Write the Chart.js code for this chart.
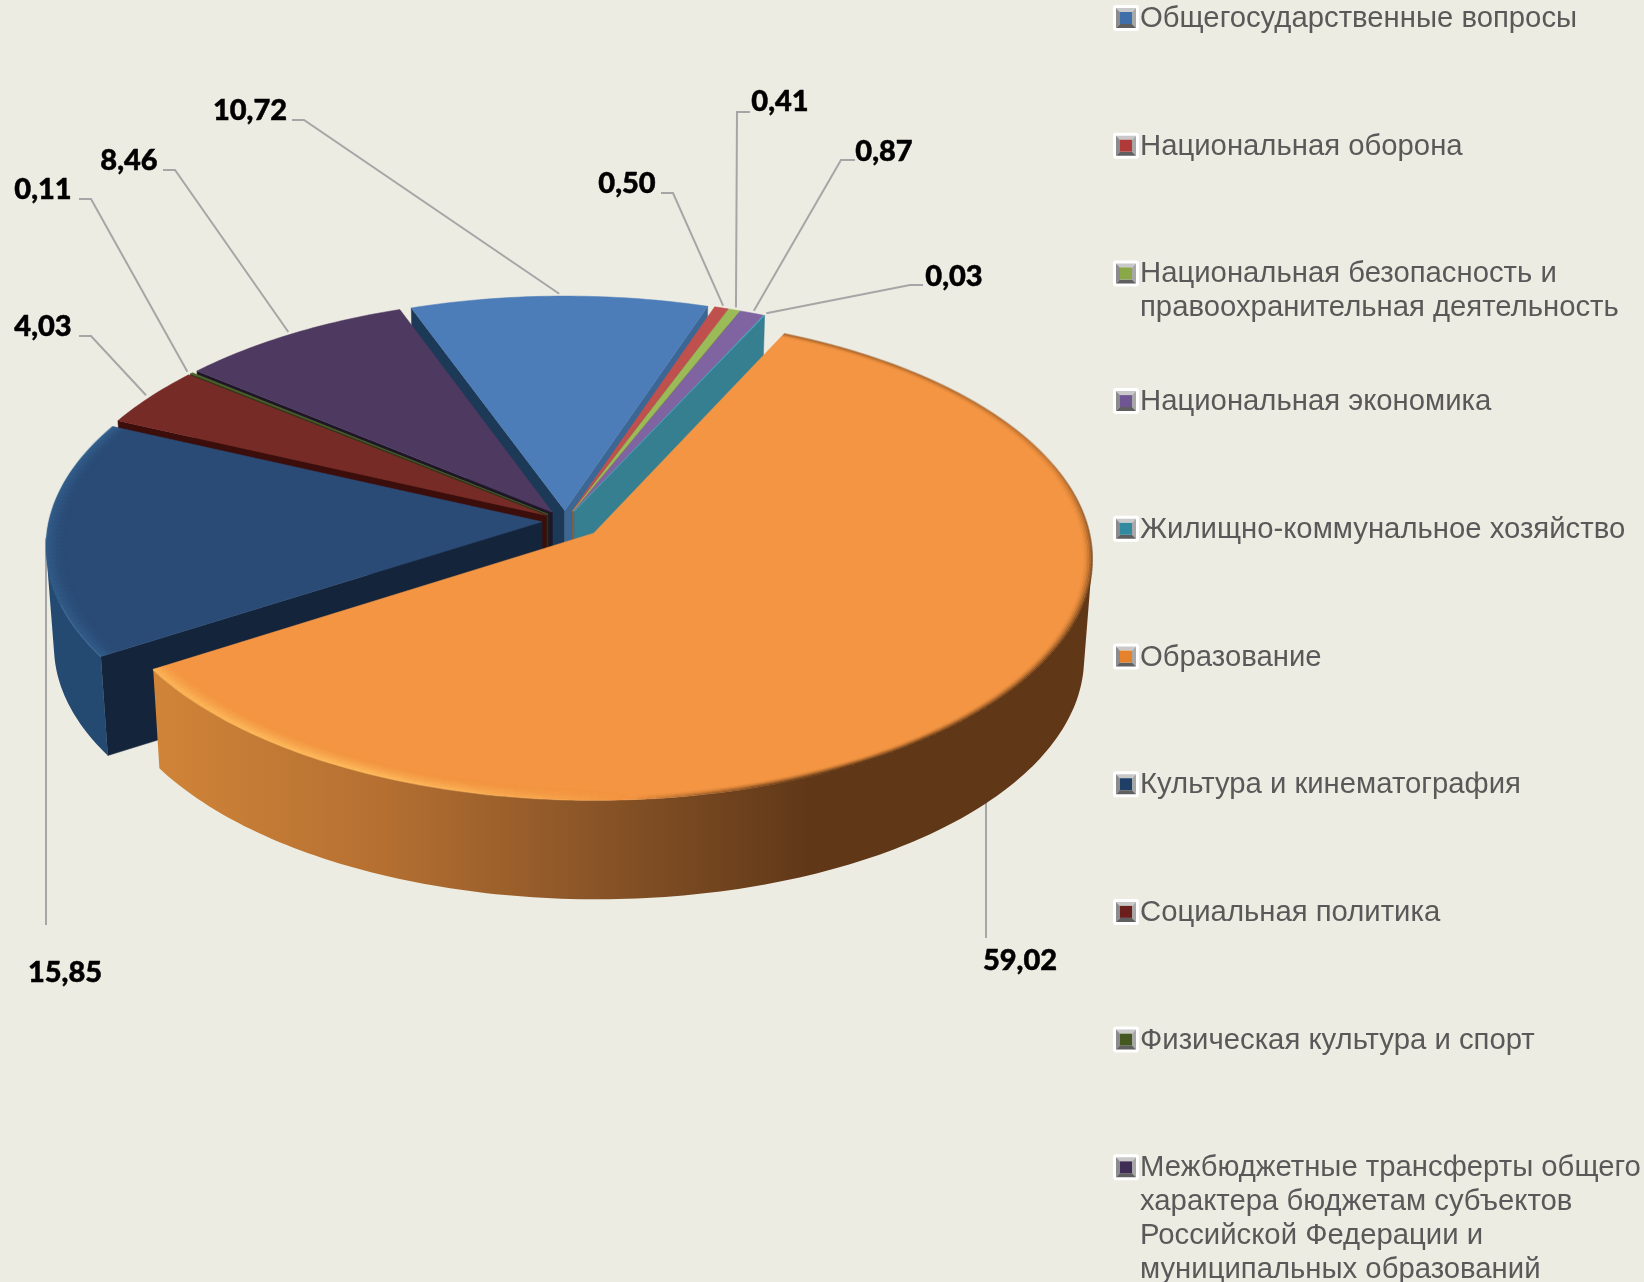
<!DOCTYPE html>
<html lang="ru">
<head>
<meta charset="utf-8">
<title>Расходы бюджета</title>
<script src="https://cdn.jsdelivr.net/npm/chart.js@4"></script>
<style>
    html, body { margin: 0; padding: 0; background: #edece2; }
    canvas { display: block; }
</style>
</head>
<body>
<canvas id="budgetChart" width="1644" height="1282"></canvas>
<script>
// Values
const categories = [
    ["Общегосударственные вопросы"],
    ["Национальная оборона"],
    ["Национальная безопасность и", "правоохранительная деятельность"],
    ["Национальная экономика"],
    ["Жилищно-коммунальное хозяйство"],
    ["Образование"],
    ["Культура и кинематография"],
    ["Социальная политика"],
    ["Физическая культура и спорт"],
    ["Межбюджетные трансферты общего", "характера бюджетам субъектов", "Российской Федерации и", "муниципальных образований"]
];
const shares = [10.72, 0.50, 0.41, 0.87, 0.03, 59.02, 15.85, 4.03, 0.11, 8.46];

// Colours of each slice: top face, the wall on the start edge, the wall on the end edge, legend square
const topColors = ["#4c7db8", "#c0504d", "#9bbb59", "#8064a2", "#4bacc6", "#f39542", "#2a4b75", "#772b27", "#4f6228", "#4e3960"];
const startWalls = ["#1c3a57", "#5c2624", "#4c5c2c", "#3f3150", "#255662", "#7a4a20", "#14243b", "#3b0d0b", "#27331a", "#1d1626"];
const endWalls = ["#3c6795", "#8f3b39", "#74903f", "#604b7a", "#367f91", "#603818", "#14243b", "#3b0d0b", "#27331a", "#1d1626"];
const legendColors = ["#3f6fa8", "#b03a37", "#8aa848", "#6f5592", "#318a9f", "#e6822c", "#1f3f66", "#6a1f1c", "#465822", "#3f2d55"];

// How far each slice is pulled out of the pie
const explodes = [22, 22, 22, 22, 22, 38, 23, 22, 22, 22];

// Where the value labels sit: text centre, then where the leader line leaves the text
const labelSpots = [
    { x: 250, y: 111, from: [292, 120], elbow: [304, 120] },
    { x: 627, y: 184, from: [661, 193], elbow: [673, 193] },
    { x: 780, y: 102, from: [750, 112], elbow: [737, 112] },
    { x: 884, y: 152, from: [855, 160], elbow: [841, 160] },
    { x: 954, y: 277, from: [923, 285], elbow: [910, 285] },
    { x: 1020, y: 961, from: [986, 938], elbow: null },
    { x: 65, y: 973, from: [46, 925], elbow: null },
    { x: 43, y: 327, from: [79, 336], elbow: [91, 336] },
    { x: 43, y: 190, from: [79, 199], elbow: [91, 199] },
    { x: 129, y: 161, from: [163, 170], elbow: [175, 170] }
];

const tilt = 0.4824;     // squash of the disc
const persp = 0.10;      // far side smaller than the near side
const depth = 99;        // height of the walls
const taper = 0.015;     // bottom of the walls narrower than the top

function project(arc, px, py, z) {
    let s = 1 / (1 - persp * (py - arc.y) / arc.outerRadius);
    return {
        x: arc.x + (px - arc.x) * s * (1 - taper * z),
        y: arc.y + (py - arc.y) * tilt * s + depth * z
    };
}

// point on the exploded slice, angle a, distance r from its apex
function slicePoint(arc, a, r, z, index) {
    let mid = (arc.startAngle + arc.endAngle) / 2;
    let px = arc.x + Math.cos(mid) * explodes[index] + Math.cos(a) * r;
    let py = arc.y + Math.sin(mid) * explodes[index] + Math.sin(a) * r;
    return project(arc, px, py, z);
}

function anglesOf(from, to) {
    let list = [];
    let steps = Math.max(1, Math.ceil((to - from) / (Math.PI / 180)));
    for (let i = 0; i <= steps; i++) {
        list.push(from + (to - from) * i / steps);
    }
    return list;
}

function fillPoints(ctx, points, fill) {
    ctx.beginPath();
    points.forEach((p, i) => i ? ctx.lineTo(p.x, p.y) : ctx.moveTo(p.x, p.y));
    ctx.closePath();
    ctx.fillStyle = fill;
    ctx.fill();
    ctx.strokeStyle = fill;
    ctx.lineWidth = 0.5;
    ctx.stroke();
}

function drawRadialWall(ctx, arc, a, fill, index) {
    let r = arc.outerRadius;
    fillPoints(ctx, [
        slicePoint(arc, a, 0, 0, index), slicePoint(arc, a, r, 0, index),
        slicePoint(arc, a, r, 1, index), slicePoint(arc, a, 0, 1, index)
    ], fill);
}

function drawRim(ctx, arc, index) {
    let r = arc.outerRadius;
    let top = anglesOf(arc.startAngle, arc.endAngle).filter(a => Math.sin(a) > -0.3);
    let fill = endWalls[index];
    if (index === 5) {
        fill = ctx.createLinearGradient(158, 0, 810, 0);
        fill.addColorStop(0, "#d08438");
        fill.addColorStop(0.35, "#b46f31");
        fill.addColorStop(0.65, "#8c5628");
        fill.addColorStop(1, "#603818");
    } else if (index === 6) {
        fill = "#254a72";
    }
    // all the quads go in one path so no seams show, same winding so none cancel out
    ctx.beginPath();
    for (let i = 1; i < top.length; i++) {
        let quad = [
            slicePoint(arc, top[i - 1], r, 0, index), slicePoint(arc, top[i], r, 0, index),
            slicePoint(arc, top[i], r, 1, index), slicePoint(arc, top[i - 1], r, 1, index)
        ];
        let area = 0;
        quad.forEach((p, n) => {
            let q = quad[(n + 1) % 4];
            area += p.x * q.y - q.x * p.y;
        });
        if (area < 0) quad.reverse();
        quad.forEach((p, n) => n ? ctx.lineTo(p.x, p.y) : ctx.moveTo(p.x, p.y));
        ctx.closePath();
    }
    ctx.fillStyle = fill;
    ctx.fill();
}

// soft shaded band along the outer edge of the two big front slices
function drawBevel(ctx, arc, index) {
    if (index !== 5 && index !== 6) return;
    let r = arc.outerRadius;
    let angles = anglesOf(arc.startAngle, arc.endAngle);
    ctx.lineWidth = 2;
    for (let band = 0; band < 14; band++) {
        let fade = 1 - band / 14;
        for (let i = 1; i < angles.length; i++) {
            let a = angles[i];
            let color;
            if (Math.cos(a) < 0.05) {
                let strength = Math.min(1, (0.05 - Math.cos(a)) * 2);
                let alpha = strength * fade * fade * (index === 5 ? 0.7 : 0.3);
                color = index === 5 ? `rgba(255,190,95,${alpha})` : `rgba(70,125,175,${alpha})`;
            } else if (band < 6) {
                let strength = Math.min(1, (Math.cos(a) - 0.05) * 2.5);
                let side = Math.min(1, Math.max(0.25, 0.5 + Math.sin(a)));
                let soft = 1 - band / 6;
                color = `rgba(96,56,24,${strength * side * soft * soft})`;
            } else {
                continue;
            }
            let p1 = slicePoint(arc, angles[i - 1], r - band * 1.6, 0, index);
            let p2 = slicePoint(arc, a, r - band * 1.6, 0, index);
            ctx.beginPath();
            ctx.moveTo(p1.x, p1.y);
            ctx.lineTo(p2.x, p2.y);
            ctx.strokeStyle = color;
            ctx.stroke();
        }
    }
}

function drawSlice(ctx, arc, index) {
    if (Math.cos(arc.startAngle) < 0) drawRadialWall(ctx, arc, arc.startAngle, startWalls[index], index);
    if (Math.cos(arc.endAngle) > 0) drawRadialWall(ctx, arc, arc.endAngle, endWalls[index], index);
    drawRim(ctx, arc, index);

    let points = [slicePoint(arc, arc.startAngle, 0, 0, index)];
    anglesOf(arc.startAngle, arc.endAngle).forEach(a => points.push(slicePoint(arc, a, arc.outerRadius, 0, index)));
    fillPoints(ctx, points, topColors[index]);
    drawBevel(ctx, arc, index);
}

function drawLeaders(ctx, arcs) {
    ctx.strokeStyle = "#a6a6a6";
    ctx.lineWidth = 2;
    arcs.forEach((arc, i) => {
        let spot = labelSpots[i];
        let mid = (arc.startAngle + arc.endAngle) / 2;
        let end = slicePoint(arc, mid, arc.outerRadius + 6, 0, i);
        ctx.beginPath();
        ctx.moveTo(spot.from[0], spot.from[1]);
        if (spot.elbow) ctx.lineTo(spot.elbow[0], spot.elbow[1]);
        ctx.lineTo(spot.elbow ? end.x : spot.from[0], end.y);
        ctx.stroke();
    });
}

function drawLabels(ctx) {
    ctx.font = "900 29px Lato";
    ctx.fillStyle = "#000000";
    ctx.strokeStyle = "#000000";
    ctx.lineWidth = 0.5;
    ctx.textAlign = "center";
    ctx.textBaseline = "middle";
    shares.forEach((value, i) => {
        let text = value.toFixed(2).replace(".", ",");
        ctx.fillText(text, labelSpots[i].x, labelSpots[i].y);
        ctx.strokeText(text, labelSpots[i].x, labelSpots[i].y);
    });
}

function drawLegendMark(ctx, x, y, color) {
    ctx.fillStyle = "#ffffff";
    ctx.beginPath();
    ctx.roundRect(x, y, 26, 26, 3);
    ctx.fill();

    let a = x + 3, b = x + 23, c = y + 3, d = y + 23;
    let faces = [
        ["#c9c9c9", [[a, c], [b, c], [b - 4, c + 4], [a + 4, c + 4]]],
        ["#8c8c8c", [[a, c], [a + 4, c + 4], [a + 4, d - 4], [a, d]]],
        ["#a8a8a8", [[b, c], [b, d], [b - 4, d - 4], [b - 4, c + 4]]],
        ["#5f5f5f", [[a, d], [a + 4, d - 4], [b - 4, d - 4], [b, d]]]
    ];
    faces.forEach(face => {
        ctx.fillStyle = face[0];
        ctx.beginPath();
        face[1].forEach((p, i) => i ? ctx.lineTo(p[0], p[1]) : ctx.moveTo(p[0], p[1]));
        ctx.closePath();
        ctx.fill();
    });
    ctx.fillStyle = color;
    ctx.fillRect(a + 4, c + 4, 12, 12);
}

function drawLegend(ctx) {
    ctx.font = "29.3px 'Liberation Sans'";
    ctx.textAlign = "left";
    ctx.textBaseline = "middle";
    categories.forEach((lines, i) => {
        let y = 19 + i * 127.7;
        drawLegendMark(ctx, 1113, y - 14, legendColors[i]);
        ctx.fillStyle = "#595959";
        lines.forEach((line, n) => ctx.fillText(line, 1140, y + n * 33.9));
    });
}

const pie3d = {
    id: "pie3d",
    // the library lays out the arcs, this draws them tilted with walls
    beforeDatasetsDraw(chart) {
        let ctx = chart.ctx;
        let arcs = chart.getDatasetMeta(0).data;
        drawLeaders(ctx, arcs);

        let fromTop = arc => {
            let angle = (arc.startAngle + arc.endAngle) / 2 + Math.PI / 2;
            return Math.abs(Math.atan2(Math.sin(angle), Math.cos(angle)));
        };
        arcs.map((arc, index) => ({ arc, index }))
            .sort((p, q) => fromTop(p.arc) - fromTop(q.arc))
            .forEach(item => drawSlice(ctx, item.arc, item.index));

        drawLabels(ctx);
        drawLegend(ctx);
        return false;
    }
};

new Chart(document.getElementById("budgetChart"), {
    type: "pie",
    data: {
        labels: categories,
        datasets: [{
            data: shares,
            backgroundColor: topColors,
            borderWidth: 0
        }]
    },
    options: {
        responsive: false,
        animation: false,
        rotation: -20,
        layout: { padding: { left: 72, right: 586, top: 28, bottom: 268 } },
        plugins: {
            legend: { display: false },
            tooltip: { enabled: false }
        }
    },
    plugins: [pie3d]
});
</script>
</body>
</html>
